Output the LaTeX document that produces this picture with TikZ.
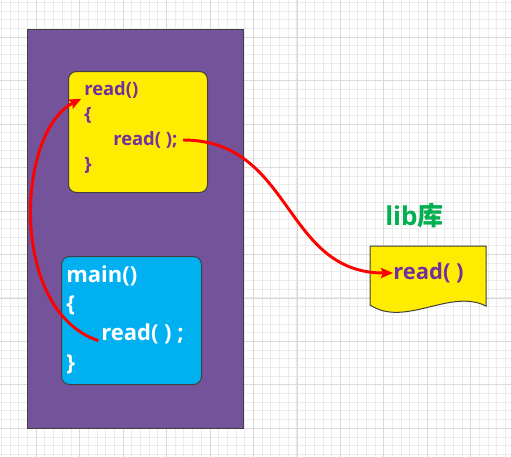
\documentclass[tikz,border=0pt]{standalone}
\usepackage{fontspec}
\setmainfont{Open Sans}
\newfontfamily\cjk{Noto Sans CJK SC}
\usetikzlibrary{arrows.meta}
\definecolor{procpurple}{RGB}{116,83,154}
\definecolor{fnyellow}{RGB}{255,236,0}
\definecolor{mainblue}{RGB}{0,176,240}
\definecolor{codepurple}{RGB}{112,48,160}
\definecolor{libgreen}{RGB}{0,176,80}
\tikzset{
  gridminor/.style={draw=black!8, line width=0.75pt},
  gridmajor/.style={draw=black!15, line width=0.75pt},
  block/.style={draw=black!75, line width=0.75pt, anchor=north west},
  codeline/.style={anchor=west, inner sep=0pt, text=codepurple,
    font=\bfseries\fontsize{13.8}{16}\selectfont},
  mainline/.style={anchor=west, inner sep=0pt, text=white,
    font=\bfseries\fontsize{16.5}{19}\selectfont},
  call/.style={draw=red, line width=2.2pt,
    -{Stealth[length=9pt,width=7.5pt,inset=1.5pt]}},
}
\begin{document}
\begin{tikzpicture}[x=0.75pt,y=-0.75pt]
  \useasboundingbox (0,0) rectangle (511,457);
  \fill[white] (0,0) rectangle (511,457);
  % grid paper
  \foreach \k in {0,...,58}
    \draw[gridminor] (1.5+8.69*\k,0) -- (1.5+8.69*\k,457);
  \foreach \k in {0,...,52}
    \draw[gridminor] (0,2.5+8.69*\k) -- (511,2.5+8.69*\k);
  \foreach \k in {0,...,10}
    \draw[gridmajor] (36.3+43.45*\k,0) -- (36.3+43.45*\k,457);
  \foreach \k in {0,...,9}
    \draw[gridmajor] (0,37.3+43.45*\k) -- (511,37.3+43.45*\k);

  % process and its two functions
  \node[block, fill=procpurple, minimum width=216*0.75pt,
    minimum height=399*0.75pt] (proc) at (27,29) {};
  \node[block, fill=fnyellow, rounded corners=6pt, minimum width=139*0.75pt,
    minimum height=121*0.75pt] (readfn) at (68,71) {};
  \node[block, fill=mainblue, rounded corners=6pt, minimum width=140*0.75pt,
    minimum height=128*0.75pt] (mainfn) at (61,256) {};

  \draw
    (84,90) node[codeline] (readsig){read()}
    (84,115) node[codeline] (readopen){\{}
    (113,140) node[codeline] (readcall){read( );}
    (84,165) node[codeline] (readclose){\}};
  \draw
    (66,276) node[mainline] (mainsig){main()}
    (66,305) node[mainline] (mainopen){\{}
    (101,334) node[mainline] (mainread){read( ) ;}
    (66,364) node[mainline] (mainclose){\}};

  % library
  \draw[draw=black!75, line width=0.75pt, fill=fnyellow]
    (370,246) -- (486,246) -- (486,306)
    .. controls (450,288) and (405,328) .. (370,305) -- cycle;
  \node[mainline, text=codepurple] (libread) at (393,273) {read( )};
  \node[anchor=west, inner sep=0pt, text=libgreen,
    font=\bfseries\fontsize{19.5}{22}\selectfont] (libtitle) at (385,216)
    {lib{\cjk\bfseries 库}};

  \begin{scope}[call]
    \draw ([xshift=4pt]readcall.east) .. controls +(110,0) and +(-110,0) .. (libread.west);
    \draw ([xshift=-2pt]mainread.base west) .. controls +(-90,-30) and +(-65,33) .. ([xshift=-2pt]readsig.south west);
  \end{scope}
\end{tikzpicture}
\end{document}
